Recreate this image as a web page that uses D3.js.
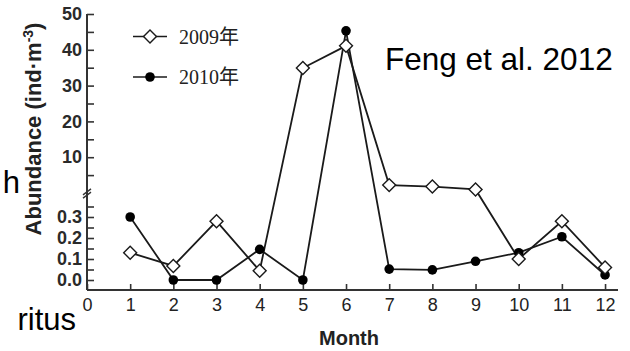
<!DOCTYPE html>
<html>
<head>
<meta charset="utf-8">
<script src="https://cdn.jsdelivr.net/npm/d3@7"></script>
<style>
  html, body { margin: 0; padding: 0; background: #fff; }
  svg { display: block; }
</style>
</head>
<body>
<svg id="chart" width="630" height="351"></svg>
<script>
// Monthly abundance (ind·m⁻³), two sampling years
const months = [1, 2, 3, 4, 5, 6, 7, 8, 9, 10, 11, 12];
const abund2009 = [0.13, 0.067, 0.28, 0.044, 34.9, 41.1, 2.2, 1.8, 1.0, 0.10, 0.28, 0.06];
const abund2010 = [0.30, 0.0, 0.0, 0.146, 0.0, 45.3, 0.052, 0.048, 0.089, 0.13, 0.206, 0.024];

const xTicks = [0, 1, 2, 3, 4, 5, 6, 7, 8, 9, 10, 11, 12];
const highTicks = [10, 20, 30, 40, 50];
const highMinor = [5, 15, 25, 35, 45];
const lowTicks = [0.0, 0.1, 0.2, 0.3];
const lowMinor = [0.05, 0.15, 0.25, 0.35];
const seriesNames = ["2009年", "2010年"];
const sourceNote = "Feng et al. 2012";

const svg = d3.select("#chart");
const ink = "#1a1a1a";
const axisInk = "#333";

// Broken y axis: a small lower segment (0–0.4) and a large upper one (0–50)
const x = d3.scaleLinear().domain([0, 12.3]).range([87, 618]);
const yLow = d3.scaleLinear().domain([-0.0476, 0.4]).range([290, 196]);
const yHigh = d3.scaleLinear().domain([0, 50]).range([193, 14]);
const breakValue = 0.5;
const y = v => (v < breakValue ? yLow(v) : yHigh(v));

// Background slide text partly hidden behind the figure
svg.append("text").attr("x", 20).attr("y", 193)
  .attr("text-anchor", "end")
  .style("font-family", "Liberation Sans, Arial, sans-serif")
  .style("font-size", "31px").attr("fill", "#000").text("h");
svg.append("text").attr("x", 76).attr("y", 330)
  .attr("text-anchor", "end")
  .style("font-family", "Liberation Sans, Arial, sans-serif")
  .style("font-size", "31px").attr("fill", "#000").text("ritus");

// X axis
const xAxis = svg.append("g")
  .attr("transform", `translate(0,${yLow.range()[0]})`)
  .call(d3.axisBottom(x).tickValues(xTicks).tickSizeInner(-6).tickSizeOuter(0).tickPadding(8));
xAxis.select(".domain").remove();
xAxis.selectAll(".tick line").attr("stroke", axisInk).attr("stroke-width", 1.6);
xAxis.selectAll(".tick text")
  .style("font-family", "Liberation Sans, Arial, sans-serif")
  .style("font-size", "18px").attr("fill", "#222");
svg.append("line")
  .attr("x1", x(0)).attr("x2", x.range()[1])
  .attr("y1", yLow.range()[0]).attr("y2", yLow.range()[0])
  .attr("stroke", axisInk).attr("stroke-width", 2);

// Y axis, upper segment
const styleY = g => {
  g.select(".domain").remove();
  g.selectAll(".tick line").attr("stroke", axisInk).attr("stroke-width", 1.6);
  g.selectAll(".tick text")
    .style("font-family", "Liberation Sans, Arial, sans-serif")
    .style("font-size", "18px").style("font-weight", "bold").attr("fill", "#2a2a2a");
};
svg.append("g").attr("transform", `translate(${x(0)},0)`)
  .call(d3.axisLeft(yHigh).tickValues(highTicks).tickSizeInner(-7).tickSizeOuter(0).tickPadding(5))
  .call(styleY);
svg.append("g").attr("transform", `translate(${x(0)},0)`)
  .call(d3.axisLeft(yHigh).tickValues(highMinor).tickSizeInner(-7).tickSizeOuter(0).tickFormat(""))
  .call(styleY);

// Y axis, lower segment
svg.append("g").attr("transform", `translate(${x(0)},0)`)
  .call(d3.axisLeft(yLow).tickValues(lowTicks).tickSizeInner(-7).tickSizeOuter(0).tickPadding(5)
    .tickFormat(d3.format(".1f")))
  .call(styleY);
svg.append("g").attr("transform", `translate(${x(0)},0)`)
  .call(d3.axisLeft(yLow).tickValues(lowMinor).tickSizeInner(-7).tickSizeOuter(0).tickFormat(""))
  .call(styleY);

// Continuous y axis line with a break mark between segments
svg.append("line")
  .attr("x1", x(0)).attr("x2", x(0))
  .attr("y1", yHigh(50)).attr("y2", yLow.range()[0])
  .attr("stroke", axisInk).attr("stroke-width", 2);
const breakY = (yHigh(0) + yLow(0.4)) / 2 - 1;
[-1.6, 1.6].forEach(off => {
  svg.append("line")
    .attr("x1", x(0) - 4).attr("x2", x(0) + 4)
    .attr("y1", breakY + off + 3).attr("y2", breakY + off - 3)
    .attr("stroke", axisInk).attr("stroke-width", 1.4);
});

// Axis titles
svg.append("text")
  .attr("transform", `translate(41,129) rotate(-90)`)
  .attr("text-anchor", "middle")
  .style("font-family", "Liberation Sans, Arial, sans-serif")
  .style("font-size", "22px").style("font-weight", "bold").attr("fill", "#222")
  .call(t => {
    t.append("tspan").text("Abundance (ind·m");
    t.append("tspan").attr("dy", -8).style("font-size", "14px").text("-3");
    t.append("tspan").attr("dy", 8).text(")");
  });
svg.append("text")
  .attr("x", 349).attr("y", 345)
  .attr("text-anchor", "middle")
  .style("font-family", "Liberation Sans, Arial, sans-serif")
  .style("font-size", "20px").style("font-weight", "bold").attr("fill", "#222")
  .text("Month");

// Series
const pts2009 = months.map((m, i) => [x(m), y(abund2009[i])]);
const pts2010 = months.map((m, i) => [x(m), y(abund2010[i])]);
const line = d3.line();

svg.append("path").attr("d", line(pts2010))
  .attr("fill", "none").attr("stroke", ink).attr("stroke-width", 1.8);
svg.append("path").attr("d", line(pts2009))
  .attr("fill", "none").attr("stroke", ink).attr("stroke-width", 1.8);

svg.append("g").selectAll("circle").data(pts2010).join("circle")
  .attr("cx", d => d[0]).attr("cy", d => d[1]).attr("r", 4.8)
  .attr("fill", "#000");

const diamond = d3.symbol().type(d3.symbolSquare).size(84);
svg.append("g").selectAll("path").data(pts2009).join("path")
  .attr("d", diamond())
  .attr("transform", d => `translate(${d[0]},${d[1]}) rotate(45)`)
  .attr("fill", "#fff").attr("stroke", ink).attr("stroke-width", 1.4);

// Legend
const legendRows = [36.5, 77];
legendRows.forEach((ly, i) => {
  const g = svg.append("g");
  g.append("line").attr("x1", 133).attr("x2", 167).attr("y1", ly).attr("y2", ly)
    .attr("stroke", ink).attr("stroke-width", 1.6);
  if (i === 0) {
    g.append("path").attr("d", diamond())
      .attr("transform", `translate(150,${ly}) rotate(45)`)
      .attr("fill", "#fff").attr("stroke", ink).attr("stroke-width", 1.4);
  } else {
    g.append("circle").attr("cx", 150).attr("cy", ly).attr("r", 4.8).attr("fill", "#000");
  }
  g.append("text").attr("x", 179).attr("y", ly + 7)
    .style("font-family", "Liberation Serif, 'Noto Sans CJK SC', serif")
    .style("font-size", "20px").attr("fill", "#222")
    .text(seriesNames[i]);
});

// Source note
svg.append("text").attr("x", 385).attr("y", 70)
  .style("font-family", "Liberation Sans, Arial, sans-serif")
  .style("font-size", "31.5px").attr("fill", "#000")
  .text(sourceNote);
</script>
</body>
</html>
